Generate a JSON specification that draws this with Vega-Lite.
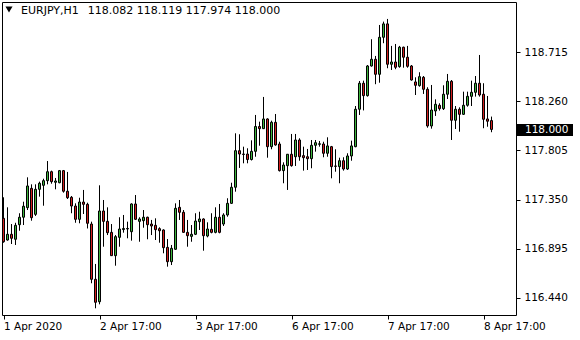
{
  "$schema": "https://vega.github.io/schema/vega-lite/v6.json",
  "width": 514,
  "height": 313,
  "autosize": {"type": "none"},
  "padding": {"left": 2, "top": 2, "right": 64, "bottom": 25},
  "background": "white",
  "config": {"view": {"stroke": "black", "strokeWidth": 1}, "font": "DejaVu Sans"},
  "resolve": {"axis": {"x": "independent", "y": "independent"}},
  "datasets": {
    "candles": [
      {"i":0,"o":117.176,"h":117.371,"l":116.950,"c":116.959},
      {"i":1,"o":116.975,"h":117.278,"l":116.969,"c":117.028},
      {"i":2,"o":117.028,"h":117.123,"l":116.938,"c":116.991},
      {"i":3,"o":116.982,"h":117.135,"l":116.929,"c":117.111},
      {"i":4,"o":117.117,"h":117.223,"l":117.061,"c":117.186},
      {"i":5,"o":117.186,"h":117.330,"l":117.114,"c":117.288},
      {"i":6,"o":117.275,"h":117.556,"l":117.253,"c":117.476},
      {"i":7,"o":117.454,"h":117.491,"l":117.154,"c":117.182},
      {"i":8,"o":117.213,"h":117.491,"l":117.198,"c":117.445},
      {"i":9,"o":117.445,"h":117.516,"l":117.377,"c":117.501},
      {"i":10,"o":117.482,"h":117.543,"l":117.293,"c":117.525},
      {"i":11,"o":117.525,"h":117.707,"l":117.491,"c":117.608},
      {"i":12,"o":117.608,"h":117.618,"l":117.497,"c":117.516},
      {"i":13,"o":117.510,"h":117.550,"l":117.445,"c":117.522},
      {"i":14,"o":117.506,"h":117.624,"l":117.501,"c":117.618},
      {"i":15,"o":117.618,"h":117.624,"l":117.414,"c":117.427},
      {"i":16,"o":117.427,"h":117.606,"l":117.355,"c":117.367},
      {"i":17,"o":117.371,"h":117.383,"l":117.223,"c":117.290},
      {"i":18,"o":117.290,"h":117.315,"l":117.135,"c":117.167},
      {"i":19,"o":117.167,"h":117.367,"l":117.130,"c":117.327},
      {"i":20,"o":117.327,"h":117.439,"l":117.216,"c":117.306},
      {"i":21,"o":117.306,"h":117.321,"l":117.082,"c":117.130},
      {"i":22,"o":117.123,"h":117.145,"l":116.574,"c":116.611},
      {"i":23,"o":116.611,"h":116.753,"l":116.342,"c":116.398},
      {"i":24,"o":116.403,"h":117.482,"l":116.379,"c":117.244},
      {"i":25,"o":117.244,"h":117.346,"l":116.913,"c":117.148},
      {"i":26,"o":117.148,"h":117.278,"l":117.021,"c":117.043},
      {"i":27,"o":117.046,"h":117.123,"l":116.827,"c":116.830},
      {"i":28,"o":116.830,"h":117.021,"l":116.737,"c":117.006},
      {"i":29,"o":117.000,"h":117.186,"l":116.913,"c":117.077},
      {"i":30,"o":117.072,"h":117.207,"l":117.043,"c":117.082},
      {"i":31,"o":117.077,"h":117.145,"l":116.991,"c":117.082},
      {"i":32,"o":117.052,"h":117.315,"l":116.969,"c":117.309},
      {"i":33,"o":117.309,"h":117.392,"l":117.161,"c":117.167},
      {"i":34,"o":117.148,"h":117.186,"l":116.959,"c":117.170},
      {"i":35,"o":117.154,"h":117.253,"l":117.089,"c":117.186},
      {"i":36,"o":117.186,"h":117.191,"l":116.982,"c":117.117},
      {"i":37,"o":117.123,"h":117.161,"l":117.021,"c":117.105},
      {"i":38,"o":117.111,"h":117.176,"l":116.975,"c":117.071},
      {"i":39,"o":117.080,"h":117.093,"l":116.950,"c":117.061},
      {"i":40,"o":117.068,"h":117.074,"l":116.852,"c":116.904},
      {"i":41,"o":116.907,"h":116.984,"l":116.728,"c":116.774},
      {"i":42,"o":116.774,"h":116.929,"l":116.743,"c":116.898},
      {"i":43,"o":116.889,"h":117.315,"l":116.885,"c":117.269},
      {"i":44,"o":117.278,"h":117.346,"l":117.161,"c":117.232},
      {"i":45,"o":117.232,"h":117.253,"l":117.043,"c":117.046},
      {"i":46,"o":117.046,"h":117.161,"l":116.913,"c":117.015},
      {"i":47,"o":117.009,"h":117.114,"l":116.959,"c":117.028},
      {"i":48,"o":117.028,"h":117.223,"l":117.021,"c":117.151},
      {"i":49,"o":117.145,"h":117.237,"l":117.068,"c":117.170},
      {"i":50,"o":117.170,"h":117.176,"l":116.876,"c":117.015},
      {"i":51,"o":117.012,"h":117.139,"l":117.000,"c":117.077},
      {"i":52,"o":117.074,"h":117.223,"l":117.037,"c":117.046},
      {"i":53,"o":117.046,"h":117.278,"l":117.037,"c":117.186},
      {"i":54,"o":117.186,"h":117.309,"l":117.037,"c":117.046},
      {"i":55,"o":117.123,"h":117.223,"l":117.105,"c":117.207},
      {"i":56,"o":117.207,"h":117.362,"l":117.191,"c":117.315},
      {"i":57,"o":117.315,"h":117.506,"l":117.309,"c":117.464},
      {"i":58,"o":117.464,"h":117.964,"l":117.423,"c":117.803},
      {"i":59,"o":117.803,"h":117.955,"l":117.643,"c":117.772},
      {"i":60,"o":117.772,"h":117.840,"l":117.686,"c":117.768},
      {"i":61,"o":117.772,"h":117.825,"l":117.686,"c":117.721},
      {"i":62,"o":117.721,"h":117.899,"l":117.712,"c":117.797},
      {"i":63,"o":117.797,"h":118.134,"l":117.747,"c":118.027},
      {"i":64,"o":118.027,"h":118.072,"l":117.849,"c":118.007},
      {"i":65,"o":118.007,"h":118.301,"l":118.004,"c":118.097},
      {"i":66,"o":118.097,"h":118.103,"l":117.738,"c":117.840},
      {"i":67,"o":117.840,"h":118.081,"l":117.816,"c":118.066},
      {"i":68,"o":118.066,"h":118.143,"l":117.849,"c":117.856},
      {"i":69,"o":117.865,"h":117.886,"l":117.610,"c":117.618},
      {"i":70,"o":117.618,"h":117.695,"l":117.501,"c":117.670},
      {"i":71,"o":117.664,"h":117.772,"l":117.439,"c":117.770},
      {"i":72,"o":117.770,"h":117.958,"l":117.655,"c":117.664},
      {"i":73,"o":117.747,"h":117.958,"l":117.661,"c":117.902},
      {"i":74,"o":117.902,"h":117.918,"l":117.710,"c":117.747},
      {"i":75,"o":117.757,"h":117.840,"l":117.618,"c":117.738},
      {"i":76,"o":117.747,"h":117.819,"l":117.624,"c":117.729},
      {"i":77,"o":117.729,"h":117.902,"l":117.640,"c":117.853},
      {"i":78,"o":117.853,"h":117.902,"l":117.794,"c":117.877},
      {"i":79,"o":117.862,"h":117.893,"l":117.840,"c":117.867},
      {"i":80,"o":117.865,"h":117.886,"l":117.742,"c":117.779},
      {"i":81,"o":117.779,"h":117.927,"l":117.747,"c":117.847},
      {"i":82,"o":117.840,"h":117.847,"l":117.547,"c":117.655},
      {"i":83,"o":117.661,"h":117.816,"l":117.608,"c":117.658},
      {"i":84,"o":117.655,"h":117.738,"l":117.501,"c":117.710},
      {"i":85,"o":117.710,"h":117.742,"l":117.618,"c":117.633},
      {"i":86,"o":117.633,"h":117.779,"l":117.624,"c":117.754},
      {"i":87,"o":117.754,"h":117.896,"l":117.710,"c":117.847},
      {"i":88,"o":117.840,"h":118.217,"l":117.835,"c":118.187},
      {"i":89,"o":118.187,"h":118.449,"l":118.134,"c":118.428},
      {"i":90,"o":118.428,"h":118.452,"l":118.176,"c":118.313},
      {"i":91,"o":118.313,"h":118.597,"l":118.304,"c":118.588},
      {"i":92,"o":118.588,"h":118.836,"l":118.582,"c":118.650},
      {"i":93,"o":118.650,"h":118.681,"l":118.419,"c":118.511},
      {"i":94,"o":118.511,"h":118.968,"l":118.433,"c":118.854},
      {"i":95,"o":118.854,"h":118.999,"l":118.799,"c":118.978},
      {"i":96,"o":118.978,"h":119.024,"l":118.567,"c":118.604},
      {"i":97,"o":118.604,"h":118.774,"l":118.551,"c":118.625},
      {"i":98,"o":118.625,"h":118.792,"l":118.558,"c":118.576},
      {"i":99,"o":118.582,"h":118.774,"l":118.572,"c":118.762},
      {"i":100,"o":118.762,"h":118.767,"l":118.572,"c":118.669},
      {"i":101,"o":118.669,"h":118.774,"l":118.572,"c":118.585},
      {"i":102,"o":118.588,"h":118.597,"l":118.452,"c":118.458},
      {"i":103,"o":118.440,"h":118.483,"l":118.319,"c":118.409},
      {"i":104,"o":118.406,"h":118.530,"l":118.396,"c":118.489},
      {"i":105,"o":118.483,"h":118.495,"l":118.329,"c":118.372},
      {"i":106,"o":118.372,"h":118.391,"l":118.016,"c":118.032},
      {"i":107,"o":118.032,"h":118.412,"l":118.007,"c":118.180},
      {"i":108,"o":118.171,"h":118.279,"l":118.125,"c":118.233},
      {"i":109,"o":118.224,"h":118.242,"l":118.174,"c":118.192},
      {"i":110,"o":118.192,"h":118.409,"l":118.180,"c":118.326},
      {"i":111,"o":118.326,"h":118.514,"l":118.282,"c":118.446},
      {"i":112,"o":118.446,"h":118.458,"l":117.902,"c":118.085},
      {"i":113,"o":118.085,"h":118.217,"l":118.004,"c":118.187},
      {"i":114,"o":118.187,"h":118.205,"l":117.979,"c":118.140},
      {"i":115,"o":118.140,"h":118.350,"l":118.134,"c":118.224},
      {"i":116,"o":118.224,"h":118.350,"l":118.211,"c":118.307},
      {"i":117,"o":118.307,"h":118.452,"l":118.217,"c":118.344},
      {"i":118,"o":118.344,"h":118.495,"l":118.304,"c":118.428},
      {"i":119,"o":118.428,"h":118.690,"l":118.304,"c":118.319},
      {"i":120,"o":118.326,"h":118.428,"l":118.011,"c":118.094},
      {"i":121,"o":118.097,"h":118.310,"l":118.025,"c":118.076},
      {"i":122,"o":118.082,"h":118.119,"l":117.974,"c":118.000}
    ],
    "info": [
      {"title": "EURJPY,H1\u2002 118.082 118.119 117.974 118.000", "label": "118.000", "price": 118.0}
    ]
  },
  "layer": [
    {
      "data": {"name": "candles"},
      "mark": {"type": "rule", "color": "black", "strokeWidth": 1},
      "encoding": {
        "x": {"field": "i", "type": "quantitative", "title": null,
          "scale": {"domain": [-0.375, 128.125], "nice": false, "zero": false, "padding": 0},
          "axis": {"orient": "bottom", "values": [0, 24, 48, 72, 96, 120],
            "labelExpr": "datum.value == 0 ? '1 Apr 2020' : datum.value == 24 ? '2 Apr 17:00' : datum.value == 48 ? '3 Apr 17:00' : datum.value == 72 ? '6 Apr 17:00' : datum.value == 96 ? '7 Apr 17:00' : '8 Apr 17:00'",
            "domain": false, "grid": false, "ticks": true, "tickSize": 4, "tickColor": "black",
            "labelAlign": "left", "labelBaseline": "top", "labelColor": "black", "labelFont": "DejaVu Sans",
            "labelFontSize": 10.5, "labelPadding": 2, "labelFlush": false, "labelOverlap": false}},
        "y": {"field": "l", "type": "quantitative", "title": null,
          "scale": {"domain": [116.280, 119.181], "nice": false, "zero": false, "padding": 0},
          "axis": {"orient": "right", "values": [116.44, 116.895, 117.35, 117.805, 118.26, 118.715],
            "format": ".3f", "domain": false, "grid": false, "tickSize": 4, "tickColor": "black",
            "labelColor": "black", "labelFont": "DejaVu Sans", "labelFontSize": 10.5, "labelPadding": 4,
            "labelFlush": false, "labelOverlap": false}},
        "y2": {"field": "h"}
      }
    },
    {
      "data": {"name": "candles"},
      "mark": {"type": "bar", "size": 2, "stroke": "black", "strokeWidth": 1},
      "encoding": {
        "x": {"field": "i", "type": "quantitative", "title": null, "axis": null,
          "scale": {"domain": [-0.375, 128.125], "nice": false, "zero": false, "padding": 0}},
        "y": {"field": "o", "type": "quantitative", "title": null, "axis": null,
          "scale": {"domain": [116.280, 119.181], "nice": false, "zero": false, "padding": 0}},
        "y2": {"field": "c"},
        "fill": {"condition": {"test": "datum.c >= datum.o", "value": "#3CB43C"}, "value": "#D21E1E"}
      }
    },
    {
      "data": {"name": "info"},
      "mark": {"type": "text", "align": "left", "baseline": "middle", "fontSize": 11, "font": "DejaVu Sans", "color": "black"},
      "encoding": {
        "x": {"datum": 4.375, "type": "quantitative", "axis": null,
          "scale": {"domain": [-0.375, 128.125], "nice": false, "zero": false, "padding": 0}},
        "y": {"datum": 119.098, "type": "quantitative", "axis": null,
          "scale": {"domain": [116.280, 119.181], "nice": false, "zero": false, "padding": 0}},
        "text": {"field": "title"}
      }
    },
    {
      "data": {"name": "info"},
      "mark": {"type": "point", "shape": "triangle-down", "filled": true, "color": "black", "size": 50, "opacity": 1},
      "encoding": {
        "x": {"datum": 1.375, "type": "quantitative", "axis": null,
          "scale": {"domain": [-0.375, 128.125], "nice": false, "zero": false, "padding": 0}},
        "y": {"datum": 119.112, "type": "quantitative", "axis": null,
          "scale": {"domain": [116.280, 119.181], "nice": false, "zero": false, "padding": 0}}
      }
    },
    {
      "data": {"name": "info"},
      "mark": {"type": "rect", "color": "black"},
      "encoding": {
        "x": {"datum": 128.375, "type": "quantitative", "axis": null,
          "scale": {"domain": [-0.375, 128.125], "nice": false, "zero": false, "padding": 0}},
        "x2": {"datum": 142.375},
        "y": {"datum": 118.050, "type": "quantitative", "axis": null,
          "scale": {"domain": [116.280, 119.181], "nice": false, "zero": false, "padding": 0}},
        "y2": {"datum": 117.939}
      }
    },
    {
      "data": {"name": "info"},
      "mark": {"type": "text", "align": "left", "baseline": "middle", "fontSize": 10.5, "font": "DejaVu Sans", "color": "white"},
      "encoding": {
        "x": {"datum": 130.375, "type": "quantitative", "axis": null,
          "scale": {"domain": [-0.375, 128.125], "nice": false, "zero": false, "padding": 0}},
        "y": {"datum": 117.995, "type": "quantitative", "axis": null,
          "scale": {"domain": [116.280, 119.181], "nice": false, "zero": false, "padding": 0}},
        "text": {"field": "label"}
      }
    }
  ]
}
